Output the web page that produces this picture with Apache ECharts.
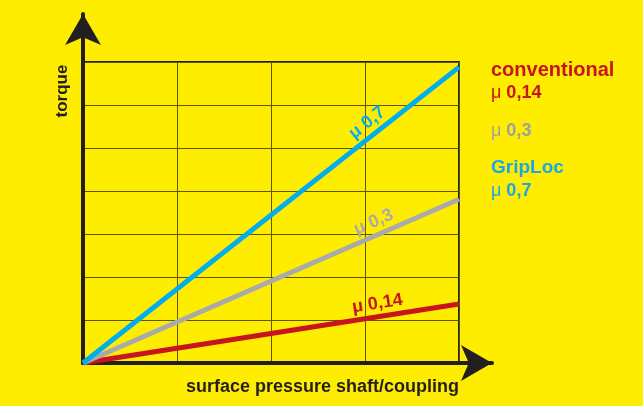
<!DOCTYPE html>
<html>
<head>
<meta charset="utf-8">
<style>
  html, body { margin: 0; padding: 0; background: #FFED00; }
  #chart { width: 643px; height: 406px; }
</style>
<script src="https://cdn.jsdelivr.net/npm/echarts@6/dist/echarts.min.js"></script>
</head>
<body>
<div id="chart"></div>
<script>
// surface pressure (x) from origin to the right edge of the grid
const pressure = [0, 4];
// torque for each friction coefficient
const torqueConventional = [0, 1.37];
const torqueMu03 = [0, 3.81];
const torqueGripLoc = [0, 6.88];

const lineLabels = ['μ 0,14', 'μ 0,3', 'μ 0,7'];

const RED = '#C8141E';
const GREY = '#AAAAAA';
const BLUE = '#00AEEF';
const INK = '#231F20';

let chart = echarts.init(document.getElementById('chart'));

function makeLine(values, color, label, along) {
    let pts = pressure.map((x, i) => [x, values[i]]);
    return {
        type: 'line',
        xAxisIndex: 0,
        yAxisIndex: 0,
        data: pts,
        showSymbol: false,
        lineStyle: { color: color, width: 5, cap: 'butt' },
        silent: true,
        markLine: {
            silent: true,
            symbol: 'none',
            lineStyle: { color: 'rgba(0,0,0,0)', width: 1, type: 'solid' },
            label: {
                show: true,
                position: 'insideEndTop',
                distance: [along, 4],
                formatter: label,
                color: color,
                fontFamily: 'Liberation Sans',
                fontWeight: 'bold',
                fontSize: 18
            },
            data: [[{ coord: pts[0] }, { coord: pts[1] }]]
        }
    };
}

const legendText = (txt, y, color, size) => ({
    type: 'text',
    left: 491,
    top: y,
    style: {
        text: txt,
        fill: color,
        font: 'bold ' + size + 'px "Liberation Sans"',
        rich: {
            m: { fontFamily: 'Liberation Sans', fontWeight: 'normal', fontSize: 18, fill: color },
            b: { fontFamily: 'Liberation Sans', fontWeight: 'bold', fontSize: 18, fill: color }
        }
    }
});

let option = {
    backgroundColor: '#FFED00',
    animation: false,
    grid: [
        { left: 83, top: 62, width: 376, height: 301, show: true, borderColor: INK, borderWidth: 2, backgroundColor: 'transparent' },
        { left: 83, top: 14, right: 151, bottom: 43 }
    ],
    xAxis: [
        {
            type: 'value', gridIndex: 0, min: 0, max: 4, interval: 1,
            axisLine: { show: false }, axisTick: { show: false }, axisLabel: { show: false },
            splitLine: { show: true, lineStyle: { color: '#5E5600', width: 1 } }
        },
        {
            type: 'value', gridIndex: 1, min: 0, max: 1,
            axisLine: {
                show: true, onZero: false, symbol: ['none', 'arrow'], symbolSize: [27, 31],
                lineStyle: { color: INK, width: 4 }
            },
            axisTick: { show: false }, axisLabel: { show: false }, splitLine: { show: false }
        }
    ],
    yAxis: [
        {
            type: 'value', gridIndex: 0, min: 0, max: 7, interval: 1,
            axisLine: { show: false }, axisTick: { show: false }, axisLabel: { show: false },
            splitLine: { show: true, lineStyle: { color: '#5E5600', width: 1 } }
        },
        {
            type: 'value', gridIndex: 1, min: 0, max: 1,
            axisLine: {
                show: true, onZero: false, symbol: ['none', 'arrow'], symbolSize: [27, 31],
                lineStyle: { color: INK, width: 4 }
            },
            axisTick: { show: false }, axisLabel: { show: false }, splitLine: { show: false }
        }
    ],
    series: [
        makeLine(torqueConventional, RED, lineLabels[0], 55),
        makeLine(torqueMu03, GREY, lineLabels[1], 67),
        makeLine(torqueGripLoc, BLUE, lineLabels[2], 86)
    ],
    graphic: [
        {
            type: 'text', x: 62, y: 91, rotation: Math.PI / 2,
            style: { text: 'torque', fill: INK, font: 'bold 17px "Liberation Sans"', align: 'center', verticalAlign: 'middle' }
        },
        {
            type: 'text', x: 459, y: 387,
            style: { text: 'surface pressure shaft/coupling', fill: INK, font: 'bold 18px "Liberation Sans"', align: 'right', verticalAlign: 'middle' }
        },
        legendText('conventional', 60, RED, 20),
        legendText('{m|μ} {b|0,14}', 84, RED, 18),
        legendText('{m|μ} {b|0,3}', 122, '#A0A0A0', 18),
        legendText('GripLoc', 158, '#1AA7E3', 19),
        legendText('{m|μ} {b|0,7}', 182, '#1AA7E3', 18)
    ]
};

chart.setOption(option);
window.addEventListener('resize', function() { chart.resize(); });
</script>
</body>
</html>
